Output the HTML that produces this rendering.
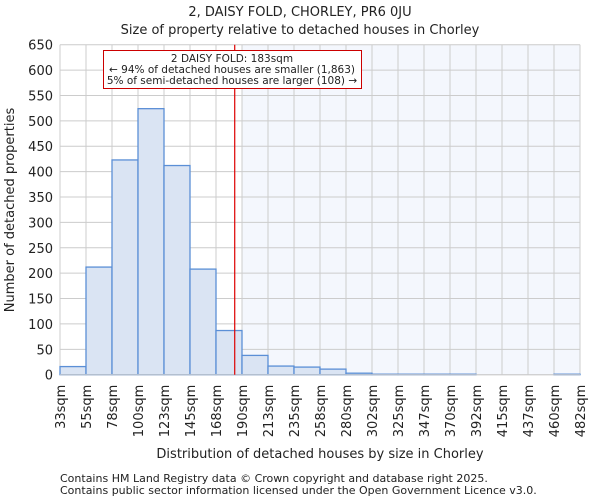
<!DOCTYPE html>
<html><head><meta charset="utf-8"><style>
body{margin:0;background:#fff;font-family:"DejaVu Sans","Liberation Sans",sans-serif}
text{font-family:"DejaVu Sans","Liberation Sans",sans-serif;fill:#222}
</style></head><body>
<svg id="c" width="600" height="500">
<text x="300" y="16" font-size="13" text-anchor="middle">2, DAISY FOLD, CHORLEY, PR6 0JU</text>
<text x="300" y="34" font-size="13" text-anchor="middle">Size of property relative to detached houses in Chorley</text>
<text transform="translate(14,210) rotate(-90)" font-size="13" text-anchor="middle" fill="#333">Number of detached properties</text>
<text x="320" y="458" font-size="13" text-anchor="middle">Distribution of detached houses by size in Chorley</text>
<text x="60" y="482" font-size="11" fill="#333">Contains HM Land Registry data © Crown copyright and database right 2025.</text>
<text x="60" y="494" font-size="11" fill="#333">Contains public sector information licensed under the Open Government Licence v3.0.</text>
<g id="g"></g>
</svg>
<script>
const labels=["33sqm","55sqm","78sqm","100sqm","123sqm","145sqm","168sqm","190sqm","213sqm","235sqm","258sqm","280sqm","302sqm","325sqm","347sqm","370sqm","392sqm","415sqm","437sqm","460sqm","482sqm"];
const counts=[16,212,423,524,412,208,87,38,17,15,11,3,1,1,1,1,0,0,0,1];
const yTicks=[0,50,100,150,200,250,300,350,400,450,500,550,600,650];
const propertyBin=6.72;
const ns="http://www.w3.org/2000/svg";
const L=60,R=580,T=44.7,B=374.7,yMax=650;
const bw=(R-L)/counts.length;
const x=i=>L+i*bw, y=v=>B-(v/yMax)*(B-T);
const g=document.getElementById('g');
function mk(t,a){const e=document.createElementNS(ns,t);for(const k in a)e.setAttribute(k,a[k]);g.appendChild(e);return e;}
const px=x(propertyBin);
let e=mk('rect',{x:x(7),y:T,width:R-x(7),height:B-T,fill:'#f4f7fd'});


yTicks.forEach(v=>{let l=mk('line',{x1:L,x2:R,y1:y(v),y2:y(v),stroke:'#ccc'});


let t=mk('text',{x:L-7,y:y(v)+5,'font-size':13,'text-anchor':'end'});t.textContent=v;

});
labels.forEach((s,i)=>{let l=mk('line',{x1:x(i),x2:x(i),y1:T,y2:B,stroke:'#ccc'});


let t=mk('text',{transform:`translate(${x(i)+5},${B+10}) rotate(-90)`,'font-size':13,'text-anchor':'end'});t.textContent=s;

});
counts.forEach((v,i)=>{if(v<=0)return;let r=mk('rect',{x:x(i),y:y(v),width:bw,height:B-y(v),fill:'#dae4f3',stroke:'#5b8fd6','stroke-width':1.3});

});
let ax=mk('line',{x1:L,x2:R,y1:B,y2:B,stroke:'#ccc'});


let rl=mk('line',{x1:px,x2:px,y1:T,y2:B,stroke:'#d00','stroke-width':1.2});


let bx=mk('rect',{x:103.5,y:50.5,width:258,height:38,fill:'#fff',stroke:'#c00'});


[["2 DAISY FOLD: 183sqm",62],["← 94% of detached houses are smaller (1,863)",73],["5% of semi-detached houses are larger (108) →",84]].forEach(([s,yy])=>{let t=mk('text',{x:232,y:yy,'font-size':10.5,'text-anchor':'middle'});t.textContent=s;

});
</script>
</body></html>
